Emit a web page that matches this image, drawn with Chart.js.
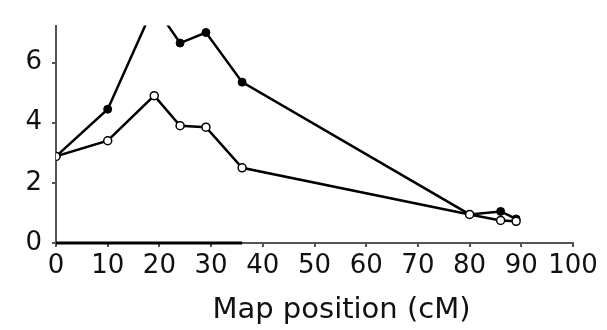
<!DOCTYPE html>
<html>
<head>
<meta charset="utf-8">
<script src="https://cdn.jsdelivr.net/npm/chart.js@4/dist/chart.umd.min.js"></script>
<style>
  html, body { margin: 0; padding: 0; background: #fff; }
  #wrap { width: 607px; height: 330px; }
</style>
</head>
<body>
<div id="wrap"><canvas id="myChart"></canvas></div>
<script>
// map positions (cM) of the markers
const positions = [0, 10, 19, 24, 29, 36, 80, 86, 89];
// filled-marker series
const filledValues = [2.88, 4.45, 7.9, 6.65, 7.0, 5.35, 0.95, 1.05, 0.8];
// open-marker series
const openValues = [2.88, 3.4, 4.9, 3.9, 3.85, 2.5, 0.95, 0.75, 0.72];
// heavy black stretch on the x axis (scan artefact in the figure)
const baseStretch = [0, 36];

const xTicks = [0, 10, 20, 30, 40, 50, 60, 70, 80, 90, 100];
const yLabelled = [0, 2, 4, 6];
const xTitle = 'Map position (cM)';

const toPoints = (xs, ys) => xs.map((x, i) => ({ x: x, y: ys[i] }));

const FONT = '"DejaVu Sans", "Liberation Sans", sans-serif';

// x axis title sits a bit right of the axis centre in the original
const titlePlugin = {
    id: 'xTitle',
    afterDraw(chart) {
        const ctx = chart.ctx;
        const area = chart.chartArea;
        ctx.save();
        ctx.font = '29px ' + FONT;
        ctx.fillStyle = '#111';
        ctx.textAlign = 'center';
        ctx.textBaseline = 'alphabetic';
        ctx.fillText(xTitle, (area.left + area.right) / 2 + 27, 318);
        ctx.restore();
    }
};

const data = {
    datasets: [{
        label: 'base',
        data: toPoints(baseStretch, [0, 0]),
        showLine: true,
        borderColor: '#000',
        borderWidth: 3,
        pointRadius: 0,
        clip: 4,
        order: 3
    }, {
        label: 'filled',
        data: toPoints(positions, filledValues),
        showLine: true,
        borderColor: '#000',
        borderWidth: 2.5,
        pointRadius: 4,
        pointBackgroundColor: '#000',
        pointBorderColor: '#000',
        pointBorderWidth: 1,
        clip: 0,
        order: 2
    }, {
        label: 'open',
        data: toPoints(positions, openValues),
        showLine: true,
        borderColor: '#000',
        borderWidth: 2.5,
        pointRadius: 4,
        pointBackgroundColor: '#fff',
        pointBorderColor: '#000',
        pointBorderWidth: 1.5,
        clip: 0,
        order: 1
    }]
};

const config = {
    type: 'scatter',
    data: data,
    options: {
        responsive: true,
        maintainAspectRatio: false,
        animation: false,
        layout: {
            padding: { top: 10, right: 34, left: 0, bottom: 0 }
        },
        plugins: {
            legend: { display: false },
            tooltip: { enabled: false }
        },
        scales: {
            x: {
                type: 'linear',
                min: 0,
                max: 100,
                afterFit: (scale) => { scale.height = 87; },
                afterBuildTicks: (scale) => {
                    scale.ticks = xTicks.map(v => ({ value: v }));
                },
                border: { display: true, color: '#555', width: 2 },
                grid: {
                    drawOnChartArea: false,
                    drawTicks: true,
                    tickLength: 4,
                    color: '#555',
                    lineWidth: 2
                },
                ticks: {
                    padding: 4,
                    maxRotation: 0,
                    autoSkip: false,
                    color: '#111',
                    font: { family: FONT, size: 26 }
                }
            },
            y: {
                type: 'linear',
                min: 0,
                max: 7.23,
                afterFit: (scale) => { scale.width = 56; },
                border: { display: true, color: '#555', width: 2 },
                grid: {
                    drawOnChartArea: false,
                    drawTicks: true,
                    tickLength: 4,
                    color: '#555',
                    lineWidth: 2
                },
                ticks: {
                    stepSize: 1,
                    includeBounds: false,
                    padding: 10,
                    color: '#111',
                    font: { family: FONT, size: 26 },
                    callback: (v) => yLabelled.includes(v) ? String(v) : ''
                }
            }
        }
    },
    plugins: [titlePlugin]
};

const myChart = new Chart(document.getElementById('myChart'), config);
</script>
</body>
</html>
